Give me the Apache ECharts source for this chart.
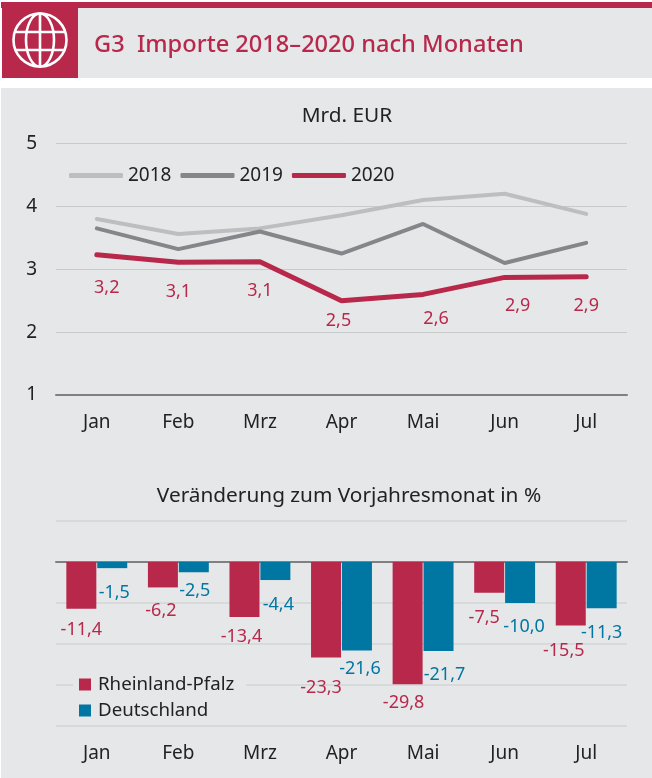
<!DOCTYPE html>
<html>
<head>
<meta charset="utf-8">
<style>
  html, body { margin: 0; padding: 0; background: #fff; }
  #main { width: 652px; height: 778px; }
</style>
</head>
<body>
<div id="main"></div>
<script src="https://cdn.jsdelivr.net/npm/echarts@6/dist/echarts.min.js"></script>
<script>
// Daten
var months = ['Jan', 'Feb', 'Mrz', 'Apr', 'Mai', 'Jun', 'Jul'];
var years = ['2018', '2019', '2020'];
var imports2018 = [3.8, 3.56, 3.65, 3.86, 4.1, 4.2, 3.88];
var imports2019 = [3.65, 3.32, 3.6, 3.25, 3.72, 3.1, 3.42];
var imports2020 = [3.23, 3.11, 3.12, 2.5, 2.6, 2.87, 2.88];
var changeRlp = [-11.4, -6.2, -13.4, -23.3, -29.8, -7.5, -15.5];
var changeDe = [-1.5, -2.5, -4.4, -21.6, -21.7, -10.0, -11.3];

// Label-Versatz je Punkt
var offs2020 = [[10, 24], [0, 20], [0, 20], [-3, 11], [13, 15], [13, 19], [0, 20]];
var offsRlp = [[0, 12], [-2, 14], [-3, 11], [-5, 21], [-4, 10], [-5, 16], [-7, 16]];
var offsDe = [[2, 16], [1, 10], [3, 16], [3, 9], [6, 15], [4, 15], [0, 16]];

var RED = '#b7284b', BLUE = '#0077a3', GREY = '#e6e7e9', TEXT = '#222222';
var FONT = '"Noto Sans", sans-serif';

function comma(v) {
  return v.toFixed(1).replace('.', ',');
}

function withLabels(values, offs, color) {
  return values.map(function (v, i) {
    return {
      value: v,
      label: {
        show: true,
        position: 'bottom',
        distance: 0,
        offset: offs[i],
        color: color,
        fontSize: 18,
        fontFamily: FONT,
        formatter: comma(v)
      }
    };
  });
}

function lineSeries(name, data, color, width) {
  return {
    name: name,
    type: 'line',
    xAxisIndex: 0,
    yAxisIndex: 0,
    data: data,
    symbol: 'circle',
    symbolSize: 1,
    showSymbol: true,
    showAllSymbol: true,
    cap: 'round',
    lineStyle: { color: color, width: width, cap: 'round' },
    itemStyle: { color: color }
  };
}

var globe = { stroke: '#fff', lineWidth: 2.6, fill: 'none' };
function chord(x1, y1, x2, y2) {
  return { type: 'line', z: 5, shape: { x1: x1, y1: y1, x2: x2, y2: y2 }, style: globe };
}

var chart = echarts.init(document.getElementById('main'));
chart.setOption({
  backgroundColor: '#fff',
  animation: false,
  textStyle: { fontFamily: FONT },
  graphic: [
    { type: 'rect', z: -1, shape: { x: 1, y: 2, width: 651, height: 6 }, style: { fill: RED } },
    { type: 'rect', z: -1, shape: { x: 2, y: 8, width: 76, height: 70 }, style: { fill: RED } },
    { type: 'rect', z: -1, shape: { x: 78, y: 8, width: 574, height: 70 }, style: { fill: GREY } },
    { type: 'rect', z: -1, shape: { x: 1, y: 88, width: 651, height: 690 }, style: { fill: GREY } },
    { type: 'circle', z: 5, shape: { cx: 40, cy: 40, r: 26.5 }, style: globe },
    { type: 'ellipse', z: 5, shape: { cx: 40, cy: 40, rx: 14, ry: 26.5 }, style: globe },
    chord(40, 13.5, 40, 66.5),
    chord(16, 32, 64, 32),
    chord(16, 50, 64, 50),
    {
      type: 'text', z: 5, x: 94, y: 45,
      style: {
        text: 'G3  Importe 2018–2020 nach Monaten', fill: RED,
        font: '500 23.6px ' + FONT, textVerticalAlign: 'middle'
      }
    },
    {
      type: 'text', z: 5, x: 347, y: 116,
      style: {
        text: 'Mrd. EUR', fill: TEXT, font: '20.8px ' + FONT,
        textAlign: 'center', textVerticalAlign: 'middle'
      }
    },
    {
      type: 'text', z: 5, x: 349, y: 496,
      style: {
        text: 'Veränderung zum Vorjahresmonat in %', fill: TEXT, font: '20.8px ' + FONT,
        textAlign: 'center', textVerticalAlign: 'middle'
      }
    }
  ],
  legend: [
    {
      data: years,
      icon: 'roundRect',
      left: 64,
      top: 161,
      itemWidth: 54,
      itemHeight: 5,
      itemGap: 9,
      selectedMode: false,
      textStyle: { color: TEXT, fontSize: 19, fontFamily: FONT }
    },
    {
      data: ['Rheinland-Pfalz', 'Deutschland'],
      orient: 'vertical',
      left: 73,
      top: 675,
      padding: [0, 12, 0, 6],
      backgroundColor: GREY,
      icon: 'rect',
      itemWidth: 12,
      itemHeight: 12,
      itemGap: 7,
      selectedMode: false,
      textStyle: { color: TEXT, fontSize: 18.7, fontFamily: FONT, padding: [0, 0, 0, 2] }
    }
  ],
  grid: [
    { left: 56, right: 25, top: 143.5, height: 251.5 },
    { left: 56, right: 25, top: 521, height: 205 }
  ],
  xAxis: [
    {
      type: 'category', gridIndex: 0, data: months,
      axisLine: { lineStyle: { color: '#808080', width: 2 } },
      axisTick: { show: false },
      axisLabel: { color: TEXT, fontSize: 19, margin: 18, fontFamily: FONT }
    },
    {
      // Nulllinie
      type: 'category', gridIndex: 1, data: months,
      axisLine: { onZero: true, lineStyle: { color: '#808080', width: 2 } },
      axisTick: { show: false },
      axisLabel: { show: false }
    },
    {
      // Monatsnamen unten
      type: 'category', gridIndex: 1, data: months, position: 'bottom',
      axisLine: { show: false, onZero: false },
      axisTick: { show: false },
      axisLabel: { color: TEXT, fontSize: 19, margin: 18, fontFamily: FONT }
    }
  ],
  yAxis: [
    {
      type: 'value', gridIndex: 0, min: 1, max: 5, interval: 1,
      axisLine: { show: false },
      axisTick: { show: false },
      axisLabel: { color: TEXT, fontSize: 19, margin: 19, fontFamily: FONT },
      splitLine: { lineStyle: { color: '#c9cacc', width: 1 } }
    },
    {
      type: 'value', gridIndex: 1, min: -40, max: 10, interval: 10,
      axisLine: { show: false },
      axisTick: { show: false },
      axisLabel: { show: false },
      splitLine: { lineStyle: { color: '#d3d4d6', width: 1.5 } }
    }
  ],
  series: [
    lineSeries('2018', imports2018, '#bdbec0', 4),
    lineSeries('2019', imports2019, '#85868a', 4),
    lineSeries('2020', withLabels(imports2020, offs2020, RED), RED, 5),
    {
      name: 'Rheinland-Pfalz', type: 'bar', xAxisIndex: 1, yAxisIndex: 1,
      data: withLabels(changeRlp, offsRlp, RED),
      barWidth: 30, barGap: '3%',
      itemStyle: { color: RED }
    },
    {
      name: 'Deutschland', type: 'bar', xAxisIndex: 1, yAxisIndex: 1,
      data: withLabels(changeDe, offsDe, BLUE),
      barWidth: 30, barGap: '3%',
      itemStyle: { color: BLUE }
    }
  ]
});
</script>
</body>
</html>
